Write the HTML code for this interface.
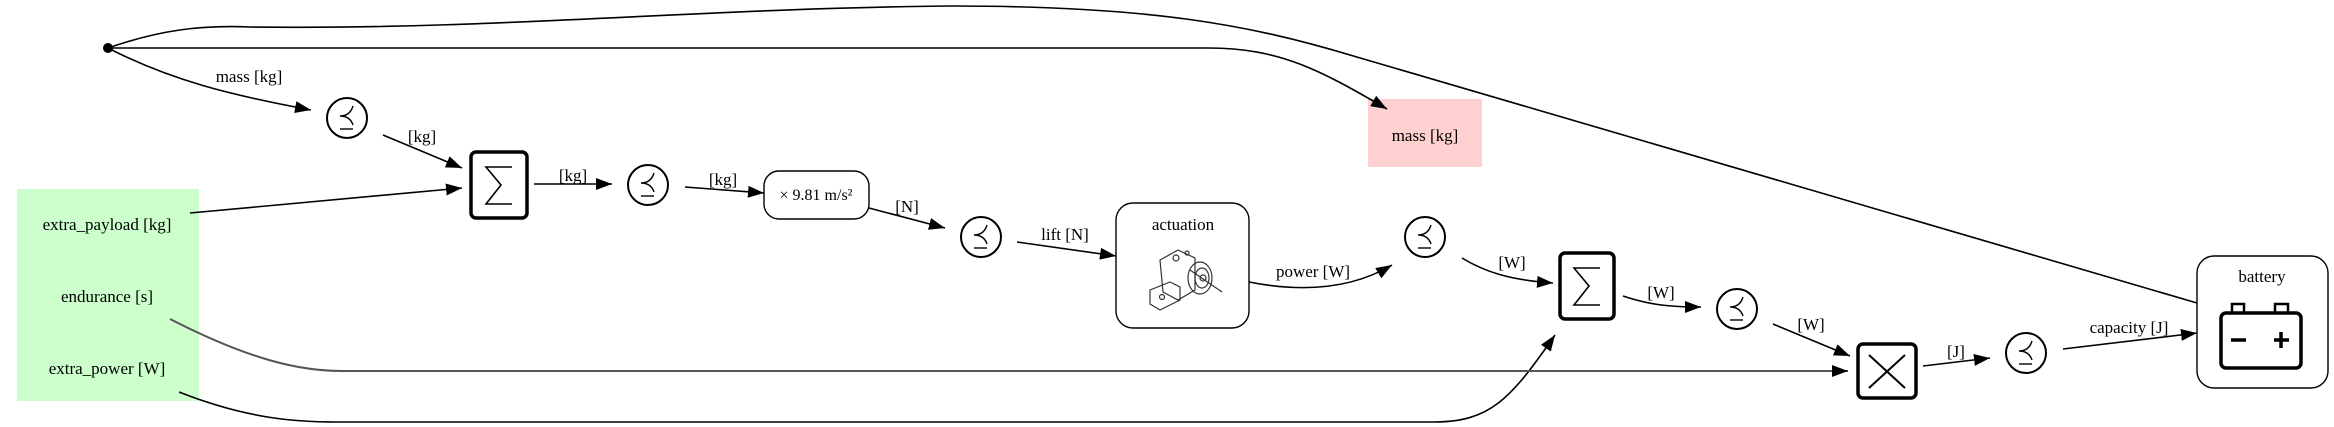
<!DOCTYPE html>
<html><head><meta charset="utf-8"><style>
html,body{margin:0;padding:0;background:#fff;}
svg{display:block;}
text{font-family:"Liberation Serif",serif;font-size:17px;fill:#000;}
</style></head><body>
<svg width="2334" height="427" viewBox="0 0 2334 427" xmlns="http://www.w3.org/2000/svg">
<defs>
<marker id="b" markerWidth="16" markerHeight="12" refX="16" refY="6" orient="auto" markerUnits="userSpaceOnUse">
<path d="M0,0 L16,6 L0,12 z" fill="#000"/></marker>
<g id="prec">
<circle cx="0" cy="0" r="20" fill="#fff" stroke="#000" stroke-width="2"/>
<path d="M6,-12 Q3,-2 -7,-2 Q3,-2 6,7" fill="none" stroke="#000" stroke-width="1.4"/>
<line x1="-7" y1="11" x2="6" y2="11" stroke="#000" stroke-width="1.4"/>
</g>
</defs>
<rect x="17" y="189" width="182" height="212" fill="#ccffcc"/>
<text x="107" y="230" text-anchor="middle">extra_payload [kg]</text>
<text x="107" y="302" text-anchor="middle">endurance [s]</text>
<text x="107" y="374" text-anchor="middle">extra_power [W]</text>
<rect x="1368" y="99" width="114" height="68" fill="#ffd0d0"/>
<text x="1425" y="141" text-anchor="middle">mass [kg]</text>
<circle cx="108" cy="48" r="5" fill="#000"/>

<g fill="none" stroke="#000" stroke-width="1.6">
<path d="M108,48 C160,30 200,25 250,27 C500,30 700,8 953,6 C1150,6 1250,25 1350,55 L2197,303"/>
<path d="M108,48 L1208,48 C1280,48 1320,70 1387,109" marker-end="url(#b)"/>
<path d="M108,48 C170,80 230,95 311,110" marker-end="url(#b)"/>
<path d="M383,135 L462,168" marker-end="url(#b)"/>
<path d="M190,213 L462,188" marker-end="url(#b)"/>
<path d="M534,184 L612,184" marker-end="url(#b)"/>
<path d="M685,187 L764,193" marker-end="url(#b)"/>
<path d="M869,208 L945,228" marker-end="url(#b)"/>
<path d="M1017,242 L1116,256" marker-end="url(#b)"/>
<path d="M1249,282 C1300,292 1350,290 1392,265" marker-end="url(#b)"/>
<path d="M1462,258 C1485,272 1510,280 1553,283" marker-end="url(#b)"/>
<path d="M1623,296 C1650,305 1670,307 1701,307" marker-end="url(#b)"/>
<path d="M1773,324 L1850,356" marker-end="url(#b)"/>
<path d="M1923,366 L1990,358" marker-end="url(#b)"/>
<path d="M2063,349 L2197,333" marker-end="url(#b)"/>
<path d="M179,392 C250,420 300,422 337,422 L1433,422 C1490,422 1510,400 1555,335" marker-end="url(#b)"/>
</g>
<path d="M170,319 C250,360 300,371 342,371 L1848,371" fill="none" stroke="#555" stroke-width="2" marker-end="url(#b)"/>

<text x="249" y="82" text-anchor="middle">mass [kg]</text>
<text x="422" y="142" text-anchor="middle">[kg]</text>
<text x="573" y="181" text-anchor="middle">[kg]</text>
<text x="723" y="185" text-anchor="middle">[kg]</text>
<text x="907" y="212" text-anchor="middle">[N]</text>
<text x="1065" y="240" text-anchor="middle">lift [N]</text>
<text x="1313" y="277" text-anchor="middle">power [W]</text>
<text x="1512" y="268" text-anchor="middle">[W]</text>
<text x="1661" y="298" text-anchor="middle">[W]</text>
<text x="1811" y="330" text-anchor="middle">[W]</text>
<text x="1956" y="357" text-anchor="middle">[J]</text>
<text x="2129" y="333" text-anchor="middle">capacity [J]</text>

<use href="#prec" x="347" y="118"/>
<use href="#prec" x="648" y="185"/>
<use href="#prec" x="981" y="237"/>
<use href="#prec" x="1425" y="237"/>
<use href="#prec" x="1737" y="309"/>
<use href="#prec" x="2026" y="353"/>

<rect x="471" y="152" width="56" height="66" rx="5" fill="#fff" stroke="#000" stroke-width="3.5"/>
<path d="M512,167 L486,167 L501,185 L486,204 L512,204" fill="none" stroke="#000" stroke-width="1.6"/>
<rect x="1560" y="253" width="54" height="66" rx="5" fill="#fff" stroke="#000" stroke-width="3.5"/>
<path d="M1600,268 L1574,268 L1589,286 L1574,305 L1600,305" fill="none" stroke="#000" stroke-width="1.6"/>
<rect x="1858" y="344" width="58" height="54" rx="5" fill="#fff" stroke="#000" stroke-width="3.5"/>
<path d="M1869,355 L1905,388 M1905,355 L1869,388" stroke="#000" stroke-width="2"/>

<rect x="764" y="171" width="105" height="48" rx="15" fill="#fff" stroke="#000" stroke-width="1.4"/>
<text x="816" y="200" text-anchor="middle" style="font-size:16px">× 9.81 m/s²</text>

<rect x="1116" y="203" width="133" height="125" rx="17" fill="#fff" stroke="#000" stroke-width="1.4"/>
<text x="1183" y="230" text-anchor="middle">actuation</text>
<g fill="none" stroke="#333" stroke-width="1.2">
<path d="M1150,290 L1170,282 L1180,287 L1180,300 L1160,310 L1150,304 z"/>
<path d="M1160,260 L1178,250 L1195,258 L1195,290 L1178,300 L1163,292 z"/>
<ellipse cx="1200" cy="278" rx="12" ry="16"/>
<ellipse cx="1202" cy="278" rx="7" ry="10"/>
<circle cx="1203" cy="278" r="3"/>
<circle cx="1176" cy="258" r="3"/>
<circle cx="1187" cy="253" r="2"/>
<circle cx="1162" cy="297" r="2.5"/>
<line x1="1190" y1="270" x2="1222" y2="292"/>
</g>

<rect x="2197" y="256" width="131" height="132" rx="17" fill="#fff" stroke="#000" stroke-width="1.4"/>
<text x="2262" y="282" text-anchor="middle">battery</text>
<g fill="none" stroke="#000" stroke-width="3.5">
<rect x="2221" y="313" width="80" height="55" rx="5"/>
<path d="M2232,313 L2232,304 L2244,304 L2244,313 M2275,313 L2275,304 L2288,304 L2288,313" stroke-width="2.5"/>
<path d="M2231,340 L2246,340 M2274,340 L2289,340 M2281,332 L2281,348"/>
</g>
</svg>
</body></html>
